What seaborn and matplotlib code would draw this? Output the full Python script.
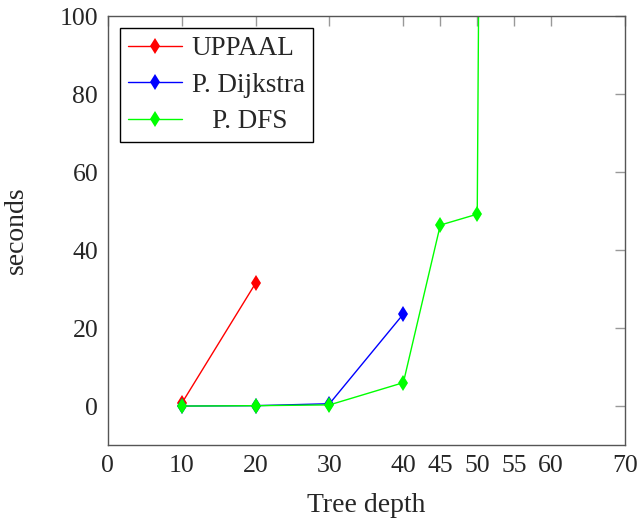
import pandas as pd
import numpy as np
import matplotlib
matplotlib.use("Agg")
import matplotlib.pyplot as plt
import seaborn as sns

# tree depth vs. running time (seconds)
uppaal_depth = [10, 20]
uppaal_sec = [0.7, 31.5]
dijkstra_depth = [10, 20, 30, 40]
dijkstra_sec = [0.0, 0.1, 0.6, 23.6]
dfs_depth = [10, 20, 30, 40, 45, 50, 55]
dfs_sec = [0.0, 0.1, 0.3, 6.0, 46.4, 49.2, 1500.0]

x_ticks = [0, 10, 20, 30, 40, 45, 50, 55, 60, 70]
y_ticks = [0, 20, 40, 60, 80, 100]

df = pd.concat([
    pd.DataFrame({"depth": uppaal_depth, "sec": uppaal_sec, "tool": "UPPAAL"}),
    pd.DataFrame({"depth": dijkstra_depth, "sec": dijkstra_sec, "tool": "P. Dijkstra"}),
    pd.DataFrame({"depth": dfs_depth, "sec": dfs_sec, "tool": "P. DFS"}),
], ignore_index=True)

sns.set_style("white")
plt.rcParams["font.family"] = ["Liberation Serif", "DejaVu Serif"]

fig, ax = plt.subplots(figsize=(6.42, 5.23), dpi=100)
fig.subplots_adjust(left=0.168, right=0.9735, bottom=0.149, top=0.9694)

palette = {"UPPAAL": "#ff0000", "P. Dijkstra": "#0000ff", "P. DFS": "#00ff00"}
sns.lineplot(data=df, x="depth", y="sec", hue="tool", palette=palette,
             style="tool", markers={"UPPAAL": "d", "P. Dijkstra": "d", "P. DFS": "d"},
             dashes=False, markersize=8, markeredgewidth=0, linewidth=1,
             sort=False, estimator=None, ax=ax)

ax.set_xlim(0, 70)
ax.set_ylim(-10, 100)
ax.set_xticks(x_ticks)
ax.set_yticks(y_ticks)
ax.tick_params(direction="in", top=True, right=True, length=7, width=1,
               color="#999999", labelsize=18.5, pad=7)
for s in ax.spines.values():
    s.set_color("#555555")
    s.set_linewidth(1)

ax.set_xlabel("Tree depth", fontsize=20, labelpad=12)
ax.set_ylabel("seconds", fontsize=20, labelpad=22)

handles, labels = ax.get_legend_handles_labels()
labels = ["UPPAAL", "P. Dijkstra", "   P. DFS"]
ax.legend(handles, labels, loc="upper left", fontsize=19.5, frameon=True,
          fancybox=False, edgecolor="black", framealpha=1,
          borderaxespad=0.45, handlelength=2.0, labelspacing=0.42,
          borderpad=0.3, handletextpad=0.35)
ax.get_legend().get_frame().set_linewidth(1)

plt.savefig("out.png", dpi=100)
